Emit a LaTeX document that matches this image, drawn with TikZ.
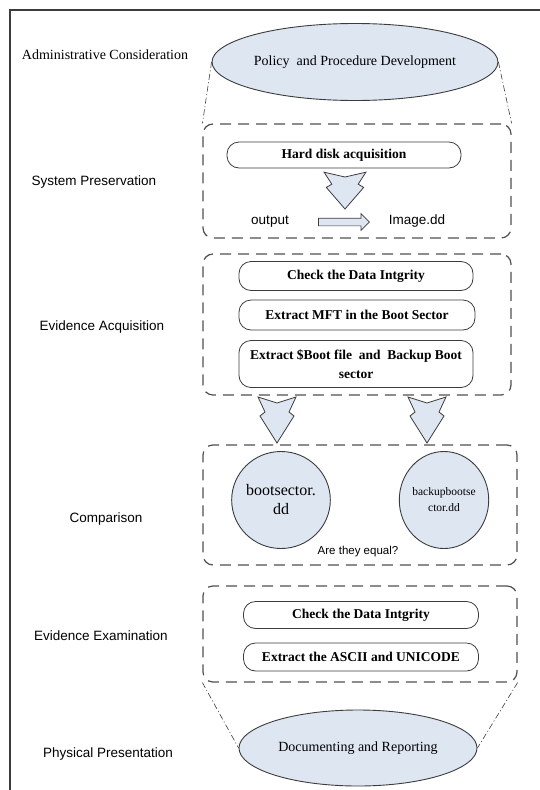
\documentclass[tikz,border=0pt]{standalone}
\usepackage{fontspec}
\setmainfont{Liberation Serif}
\setsansfont{Liberation Sans}
\usetikzlibrary{shapes.geometric,shapes.arrows}

\definecolor{paleblue}{RGB}{222,230,242}
\definecolor{lineg}{RGB}{60,60,60}

\tikzset{
  stage/.style={draw=lineg!90, line width=1.2pt, dash pattern=on 11pt off 7pt,
    rounded corners=10pt, inner sep=0pt},
  pill/.style={draw=lineg, line width=0.8pt, rounded corners=12pt, align=center,
    font=\fontsize{13.5}{16}\selectfont\bfseries, inner sep=2pt},
  oval/.style={ellipse, draw=lineg, line width=0.9pt, fill=paleblue, inner sep=0pt,
    align=center},
  phase/.style={font=\sffamily\fontsize{13.5}{16}\selectfont},
  chevron/.style={draw=lineg, line width=0.8pt, fill=paleblue, line join=miter},
  link/.style={lineg, line width=0.6pt, dash pattern=on 6pt off 2.5pt on 1pt off 2.5pt},
  chev/.pic={
    \draw[chevron] (-19,-46) -- (0,-40) -- (19,-46) -- (12,-31) -- (17,-27)
      -- (0,0) -- (-17,-27) -- (-12,-31) -- cycle;
  },
}

\begin{document}
\begin{tikzpicture}[x=1pt,y=-1pt]
  \useasboundingbox (0,0) rectangle (540,790);
  % frame
  \draw[lineg, line width=1.2pt] (540,10) -- (10,10) -- (10,790);

  % phase names
  \node[font=\fontsize{14}{16}\selectfont] (l1) at (105,55) {Administrative Consideration};
  \node[phase] (l2) at (94,182) {System Preservation};
  \node[phase] (l3) at (102,327) {Evidence Acquisition};
  \node[phase] (l4) at (106,519) {Comparison};
  \node[phase] (l5) at (101,636) {Evidence Examination};
  \node[phase] (l6) at (108,754) {Physical Presentation};

  % dashed stages
  \node[stage, minimum width=308, minimum height=114] (sp) at (357,181) {};
  \node[stage, minimum width=308, minimum height=141] (ea) at (357,324.5) {};
  \node[stage, minimum width=314, minimum height=120] (cmp) at (360,505) {};
  \node[stage, minimum width=314, minimum height=96] (ex) at (360,634) {};

  % top and bottom
  \node[oval, minimum width=243, minimum height=77, font=\fontsize{14}{16}\selectfont]
    (pol) at (355,62) {Policy~ and Procedure Development};
  \node[oval, minimum width=238, minimum height=76, font=\fontsize{14}{16}\selectfont]
    (doc) at (358,748) {Documenting and Reporting};
  \draw[link] (pol.west) -- (sp.north west);
  \draw[link] (pol.east) -- (sp.north east);
  \draw[link] (ex.south west) -- (doc.west);
  \draw[link] (ex.south east) -- (doc.east);

  % system preservation
  \node[pill, minimum width=234, minimum height=26] (hd) at (344,155) {Hard disk acquisition};
  \pic[xscale=1.1, yscale=0.8] at (345,209) {chev};
  \node[phase] (out) at (270,222) {output};
  \node[phase] (img) at (417,221) {Image.dd};
  \node[single arrow, draw=lineg, fill=paleblue, line width=0.7pt, inner sep=3.5pt,
    minimum height=51, single arrow head extend=4.5pt] (oarr) at (342,222) {};

  % evidence acquisition
  \node[pill, minimum width=234, minimum height=29] (cd1) at (356,276) {Check the Data Intgrity};
  \node[pill, minimum width=236, minimum height=30] (mft) at (357,315) {Extract MFT in the Boot Sector};
  \node[pill, minimum width=234, minimum height=47, font=\fontsize{13.5}{19}\selectfont\bfseries]
    (bt) at (356,364) {Extract \$Boot file~ and~ Backup Boot\\sector};
  \pic at (277,443) {chev};
  \pic at (427,443) {chev};

  % comparison
  \node[oval, minimum width=86, minimum height=97, font=\fontsize{16}{19}\selectfont]
    (bs) at (281,500) {bootsector.\\dd};
  \node[oval, minimum width=86, minimum height=97, font=\fontsize{11.5}{16}\selectfont]
    (bbs) at (444,500) {backupbootse\\ctor.dd};
  \node[font=\sffamily\fontsize{11.5}{14}\selectfont] (eq) at (358,552) {Are they equal?};

  % evidence examination
  \node[pill, minimum width=235, minimum height=27] (cd2) at (361,615) {Check the Data Intgrity};
  \node[pill, minimum width=235, minimum height=28] (asc) at (361,657) {Extract the ASCII and UNICODE};
\end{tikzpicture}
\end{document}
